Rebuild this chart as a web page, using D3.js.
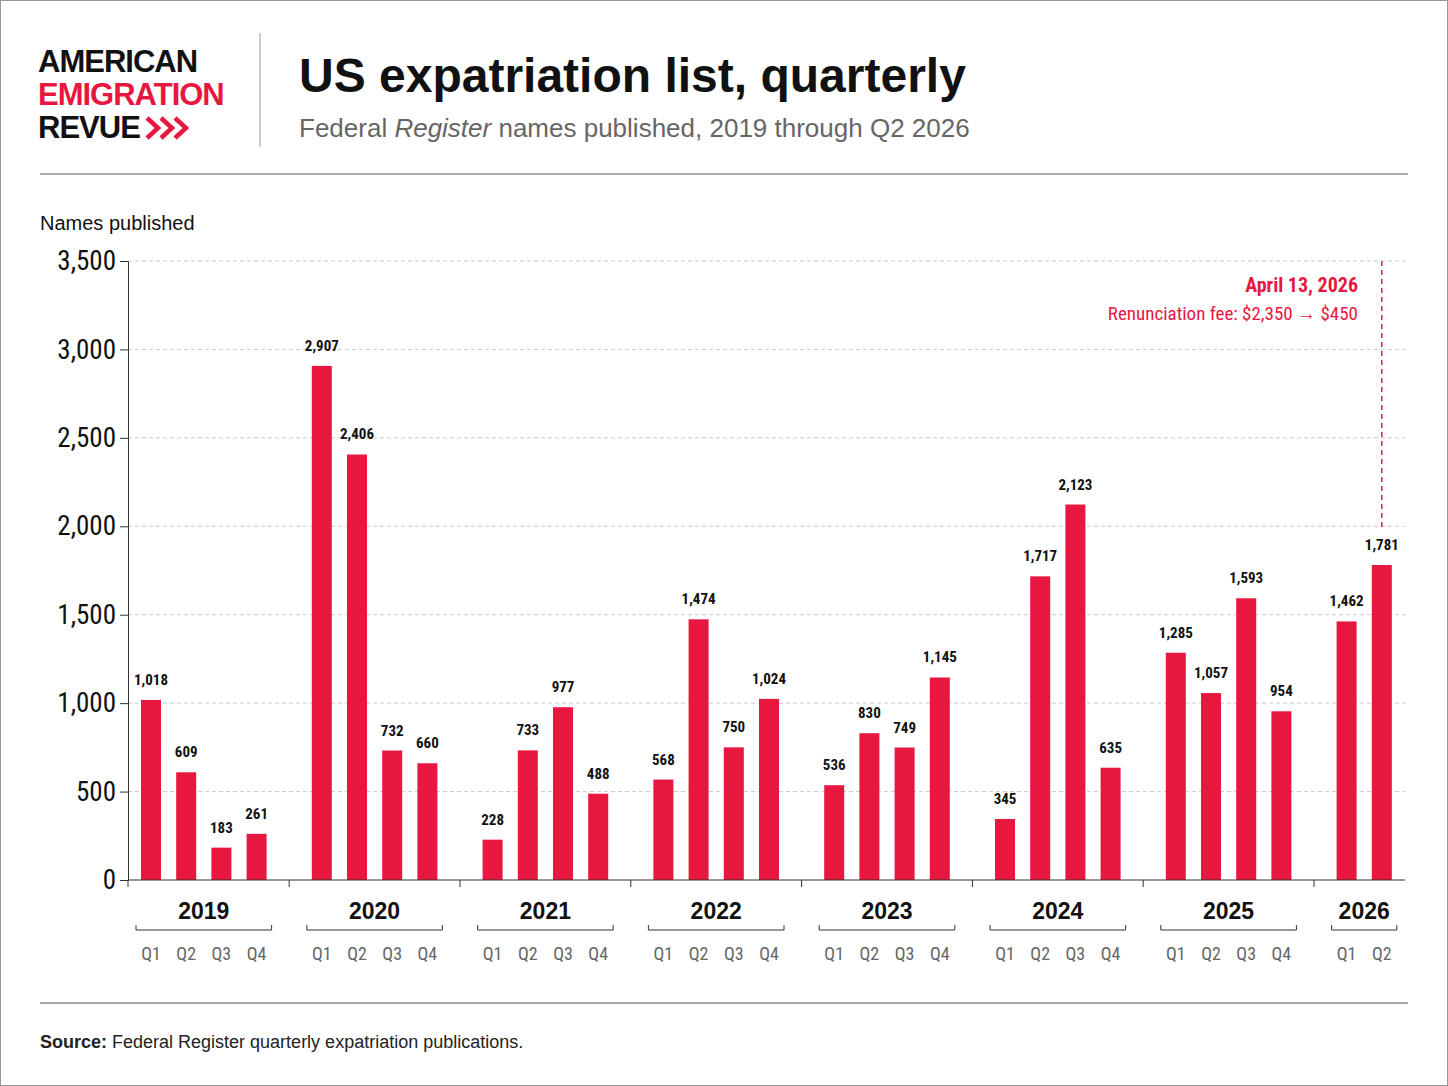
<!DOCTYPE html>
<html><head><meta charset="utf-8">
<script src="https://cdn.jsdelivr.net/npm/d3@7"></script>
<style>
body{margin:0;background:#fff;}
svg{display:block;font-family:"Liberation Sans",Arial,sans-serif;}
.narrow{font-family:"Liberation Sans Narrow","Roboto Condensed","Roboto",sans-serif;}
</style></head>
<body><svg id="chart" width="1448" height="1086"></svg>
<script>
const years = ['2019','2020','2021','2022','2023','2024','2025','2026'];
const quarters = ['Q1','Q2','Q3','Q4'];
const values = [
  [1018, 609, 183, 261],
  [2907, 2406, 732, 660],
  [228, 733, 977, 488],
  [568, 1474, 750, 1024],
  [536, 830, 749, 1145],
  [345, 1717, 2123, 635],
  [1285, 1057, 1593, 954],
  [1462, 1781]
];
const yTicks = [0, 500, 1000, 1500, 2000, 2500, 3000, 3500];
const red = '#e8173f';

const svg = d3.select('#chart');
svg.append('rect').attr('x',0.5).attr('y',0.5).attr('width',1447).attr('height',1085)
  .attr('fill','none').attr('stroke','#999');

// header
const logo = svg.append('g').attr('font-weight','bold').attr('font-size',31).attr('letter-spacing',-1);
logo.append('text').attr('x',38).attr('y',72).attr('fill','#111').text('AMERICAN');
logo.append('text').attr('x',38).attr('y',105).attr('fill',red).text('EMIGRATION');
logo.append('text').attr('x',38).attr('y',138).attr('fill','#111').text('REVUE');
// chevrons
[0, 1, 2].forEach(i => {
  const x = 147 + i * 14;
  svg.append('path').attr('d', `M${x},118 L${x + 11},128 L${x},138`)
    .attr('fill','none').attr('stroke',red).attr('stroke-width',4.5);
});
svg.append('line').attr('x1',260).attr('x2',260).attr('y1',33).attr('y2',147).attr('stroke','#999');
svg.append('text').attr('x',299).attr('y',92).attr('font-size',48).attr('font-weight','bold')
  .attr('fill','#111').text('US expatriation list, quarterly');
const sub = svg.append('text').attr('x',299).attr('y',137).attr('font-size',26).attr('fill','#666');
sub.append('tspan').text('Federal ');
sub.append('tspan').attr('font-style','italic').text('Register');
sub.append('tspan').text(' names published, 2019 through Q2 2026');
svg.append('line').attr('x1',40).attr('x2',1408).attr('y1',174).attr('y2',174).attr('stroke','#555');
svg.append('line').attr('x1',40).attr('x2',1408).attr('y1',1003).attr('y2',1003).attr('stroke','#555');
const src = svg.append('text').attr('x',40).attr('y',1048).attr('font-size',18).attr('fill','#222');
src.append('tspan').attr('font-weight','bold').text('Source:');
src.append('tspan').text(' Federal Register quarterly expatriation publications.');

// data
const flat = [];
values.forEach((arr, yi) => arr.forEach((v, qi) => flat.push({year: years[yi], yi, q: quarters[qi], v, slot: flat.length})));
const step = 35.2, gap = 30;
const pos = d => 151 + d.slot * step + d.yi * gap;
const y = d3.scaleLinear().domain([0, 3500]).range([880, 261]);

svg.append('text').attr('x',40).attr('y',230).attr('font-size',20).attr('fill','#111').text('Names published');

const grid = svg.append('g');
yTicks.forEach(t => {
  if (t > 0) grid.append('line').attr('x1',128).attr('x2',1405).attr('y1',y(t)).attr('y2',y(t))
    .attr('stroke','#ccc').attr('stroke-dasharray','4,3');
});
const yAxis = svg.append('g').attr('transform','translate(128,0)')
  .call(d3.axisLeft(y).tickValues(yTicks).tickSize(8).tickFormat(d3.format(',')));
yAxis.select('.domain').attr('stroke','#333');
yAxis.selectAll('line').attr('stroke','#333');
yAxis.selectAll('text').attr('class','narrow').attr('font-size',27).attr('fill','#111').attr('x',-12);

svg.selectAll('rect.bar').data(flat).join('rect').attr('class','bar')
  .attr('x', d => pos(d) - 10).attr('width', 20)
  .attr('y', d => y(d.v)).attr('height', d => y(0) - y(d.v)).attr('fill', red);
svg.selectAll('text.val').data(flat).join('text').attr('class','val narrow')
  .attr('x', pos).attr('y', d => y(d.v) - 15).attr('text-anchor','middle')
  .attr('font-size',15).attr('font-weight','bold').attr('fill','#111')
  .text(d => d3.format(',')(d.v));

svg.append('line').attr('x1',128).attr('x2',1405).attr('y1',880).attr('y2',880).attr('stroke','#333');

// year groups
years.forEach((yr, yi) => {
  const g = flat.filter(d => d.yi === yi);
  const x0 = pos(g[0]), x1 = pos(g[g.length - 1]);
  const sepX = yi === 0 ? 128 : (pos(flat[g[0].slot - 1]) + x0) / 2;
  svg.append('line').attr('x1',sepX).attr('x2',sepX).attr('y1',880).attr('y2',887).attr('stroke','#333');
  svg.append('text').attr('x',(x0 + x1) / 2).attr('y',919).attr('text-anchor','middle')
    .attr('font-size',23).attr('font-weight','bold').attr('fill','#111').text(yr);
  svg.append('line').attr('x1',x0 - 15).attr('x2',x1 + 15).attr('y1',930).attr('y2',930).attr('stroke','#333');
  svg.append('line').attr('x1',x0 - 15).attr('x2',x0 - 15).attr('y1',925).attr('y2',930).attr('stroke','#333');
  svg.append('line').attr('x1',x1 + 15).attr('x2',x1 + 15).attr('y1',925).attr('y2',930).attr('stroke','#333');
  g.forEach(d => svg.append('text').attr('class','narrow').attr('x',pos(d)).attr('y',960)
    .attr('text-anchor','middle').attr('font-size',18).attr('fill','#666').text(d.q));
});

// annotation
const last = flat[flat.length - 1];
svg.append('line').attr('x1',pos(last)).attr('x2',pos(last)).attr('y1',261).attr('y2',y(last.v) - 34)
  .attr('stroke',red).attr('stroke-width',1.5).attr('stroke-dasharray','5,4');
svg.append('text').attr('class','narrow').attr('x',1358).attr('y',292).attr('text-anchor','end')
  .attr('font-size',20).attr('font-weight','bold').attr('fill',red).text('April 13, 2026');
svg.append('text').attr('class','narrow').attr('x',1358).attr('y',320).attr('text-anchor','end')
  .attr('font-size',19).attr('fill',red).text('Renunciation fee: $2,350 → $450');
</script></body></html>
